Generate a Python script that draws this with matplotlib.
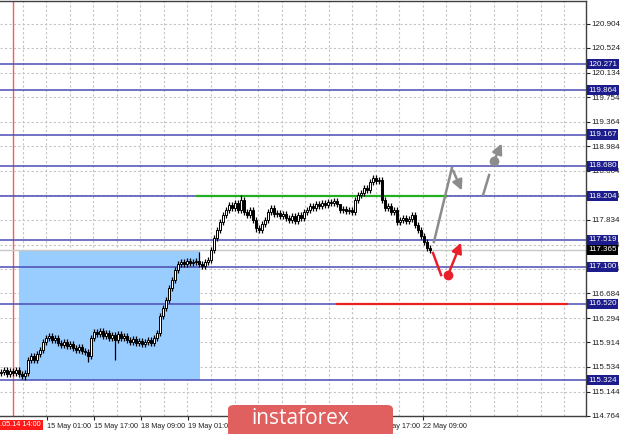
import numpy as np
import matplotlib.pyplot as plt
from matplotlib.patches import Rectangle, FancyBboxPatch

# Hourly closes (13-22 May)
closes = [115.451, 115.483, 115.420, 115.467, 115.436, 115.483, 115.420, 115.389, 115.436, 115.639,
          115.702, 115.639, 115.733, 115.795, 115.921, 115.983, 116.015, 115.952, 115.983, 115.905,
          115.874, 115.921, 115.858, 115.889, 115.827, 115.795, 115.842, 115.780, 115.764, 115.702,
          115.983, 116.077, 116.046, 116.093, 116.015, 116.061, 115.983, 116.030, 115.952, 116.046,
          115.983, 116.015, 115.952, 115.921, 115.968, 115.905, 115.936, 115.889, 115.921, 115.952,
          115.905, 115.983, 116.061, 116.327, 116.453, 116.578, 116.766, 116.891, 117.047, 117.141,
          117.173, 117.141, 117.188, 117.157, 117.173, 117.188, 117.141, 117.110, 117.173, 117.204,
          117.360, 117.548, 117.673, 117.798, 117.908, 117.986, 118.064, 118.017, 118.096, 117.986,
          118.143, 117.955, 117.908, 117.986, 117.830, 117.705, 117.673, 117.767, 117.830, 117.955,
          118.017, 117.924, 117.939, 117.892, 117.924, 117.861, 117.830, 117.892, 117.814, 117.908,
          117.861, 117.955, 117.986, 118.049, 118.017, 118.080, 118.049, 118.096, 118.064, 118.111,
          118.096, 118.127, 118.080, 117.986, 118.002, 117.971, 117.986, 117.955, 118.143, 118.221,
          118.252, 118.330, 118.299, 118.424, 118.487, 118.440, 118.456, 118.143, 118.017, 118.049,
          117.955, 117.986, 117.798, 117.830, 117.861, 117.814, 117.846, 117.908, 117.752, 117.673,
          117.580, 117.486, 117.392, 117.365]
first_open = 115.44

# wicks that stick out noticeably
wick_highs = {66: 117.33, 80: 118.221, 113: 118.06, 124: 118.534}
wick_lows = {8: 115.33, 29: 115.61, 38: 115.639, 85: 117.64, 143: 117.314}

levels = [120.271, 119.864, 119.167, 118.680, 118.204, 117.519, 117.100, 116.520, 115.324]
current_price = 117.365
resistance = 118.204
support = 116.520

price_ticks = [120.904, 120.524, 120.134, 119.754, 119.364, 118.984, 118.604, 118.214, 117.834,
               117.444, 117.064, 116.684, 116.294, 115.914, 115.534, 115.144, 114.764]
time_labels = ['15 May 01:00', '15 May 17:00', '18 May 09:00', '19 May 01:00', '19 May 17:00',
               '20 May 09:00', '21 May 01:00', '21 May 17:00', '22 May 09:00']
start_label = '13.05.14 14:00'

# forecast sketch, (bar, price)
grey_path = [(144.3, 117.486), (150.3, 118.644), (154.0, 118.252)]
grey_line = [(160.7, 118.221), (162.7, 118.534)]
grey_dot = (164.3, 118.753)
grey_tip = (167.3, 119.066)
red_line = [(144.0, 117.314), (146.7, 116.969)]
red_dot = (149.0, 116.969)
red_tip = (153.7, 117.517)

plt.rcParams['font.family'] = ['Liberation Sans', 'DejaVu Sans']

fig = plt.figure(figsize=(6.2, 4.34), dpi=100)
ax = fig.add_axes([0, 18 / 434, 586 / 620, 415 / 434])
ax.set_xlim(-1 / 3, 195)
ax.set_ylim(114.763, 121.257)

# grid
for p in price_ticks:
    ax.axhline(p, color='#c4c4c4', lw=0.8, ls=(0, (2, 2)), zorder=0)
for v in 7.2 + 7.85 * np.arange(25):
    ax.axvline(v, color='#c4c4c4', lw=0.8, ls=(0, (2, 2)), zorder=0)

# box around the consolidation
ax.add_patch(Rectangle((6, 115.324), 60.3, current_price - 115.324,
                       facecolor='#99ccff', edgecolor='none', zorder=1))

ax.axvline(4, color='#ff5a5a', lw=1.0, zorder=2)
ax.axhline(current_price, color='#c8c8c8', lw=1.0, zorder=2)

for lvl in levels:
    ax.axhline(lvl, color='#4b4bb4', lw=1.1, zorder=3)

ax.plot([65.3, 148.7], [resistance, resistance], color='#22b022', lw=1.6, zorder=4)
ax.plot([112, 188.7], [support, support], color='#ee2020', lw=1.6, zorder=4)

# candles
opens = [first_open] + closes[:-1]
for i, (o, c) in enumerate(zip(opens, closes)):
    hi = wick_highs.get(i, max(o, c) + 0.045)
    lo = wick_lows.get(i, min(o, c) - 0.045)
    ax.vlines(i, lo, hi, color='black', lw=0.9, zorder=5)
    body = max(abs(c - o), 0.012)
    ax.add_patch(Rectangle((i - 0.4, min(o, c)), 0.8, body,
                           facecolor='white' if c > o else 'black', edgecolor='black',
                           lw=0.7, zorder=6))

# forecast arrows
gx, gy = zip(*grey_path)
ax.plot(gx[:2], gy[:2], color='#8c8c8c', lw=1.8, zorder=7)
ax.annotate('', xy=grey_path[2], xytext=grey_path[1],
            arrowprops=dict(arrowstyle='-|>,head_length=0.6,head_width=0.3', color='#8c8c8c', lw=1.8), zorder=7)
ax.plot(*zip(*grey_line), color='#8c8c8c', lw=1.8, zorder=7)
ax.plot(*grey_dot, 'o', color='#8c8c8c', ms=6, zorder=7)
ax.annotate('', xy=grey_tip, xytext=grey_dot,
            arrowprops=dict(arrowstyle='-|>,head_length=0.6,head_width=0.3', color='#8c8c8c', lw=1.8), zorder=7)
ax.plot(*zip(*red_line), color='#e8202a', lw=1.8, zorder=7)
ax.plot(*red_dot, 'o', color='#e8202a', ms=6, zorder=7)
ax.annotate('', xy=red_tip, xytext=red_dot,
            arrowprops=dict(arrowstyle='-|>,head_length=0.6,head_width=0.3', color='#e8202a', lw=1.8), zorder=7)

# axes styling
ax.spines['left'].set_visible(False)
for side in ['top', 'right', 'bottom']:
    ax.spines[side].set_color('#404040')
    ax.spines[side].set_linewidth(1.0)
ax.yaxis.tick_right()
ax.set_yticks(price_ticks)
ax.set_yticklabels([f'{p:.3f}' for p in price_ticks])
ax.tick_params(axis='y', length=3, width=0.8, pad=0.8, labelsize=5.8, colors='#202020')
tick_pos = 15.2 + 15.7 * np.arange(len(time_labels))
ax.set_xticks(tick_pos)
ax.set_xticklabels(time_labels, ha='left')
ax.tick_params(axis='x', length=3, width=0.8, pad=2, labelsize=5.2, colors='#202020')

# level price boxes
for lvl in levels:
    ax.text(1.004, lvl, f'{lvl:.3f}', transform=ax.get_yaxis_transform(), fontsize=5.8,
            color='white', va='center', ha='left', zorder=10, clip_on=False,
            bbox=dict(boxstyle='square,pad=0.2', fc='#1c1c8c', ec='none'))
ax.text(1.004, current_price, f'{current_price:.3f}', transform=ax.get_yaxis_transform(), fontsize=5.8,
        color='white', va='center', ha='left', zorder=11, clip_on=False,
        bbox=dict(boxstyle='square,pad=0.2', fc='black', ec='none'))

fig.text(41 / 620, 1 - 425 / 434, start_label, fontsize=5.2, color='white', ha='right', va='center',
         bbox=dict(boxstyle='square,pad=0.25', fc='#ff1a1a', ec='none'))

# watermark
fig.patches.append(FancyBboxPatch((228 / 620, -0.05), 165 / 620, 29 / 434 + 0.05,
                                  boxstyle='round,pad=0,rounding_size=0.01',
                                  transform=fig.transFigure, fc='#e06060', ec='none', zorder=20))
fig.text(300 / 620, 1 - 418 / 434, 'instaforex', fontsize=15, color='white', ha='center', va='center',
         family='Open Sans', zorder=21)

fig.savefig('out.png', dpi=100)
